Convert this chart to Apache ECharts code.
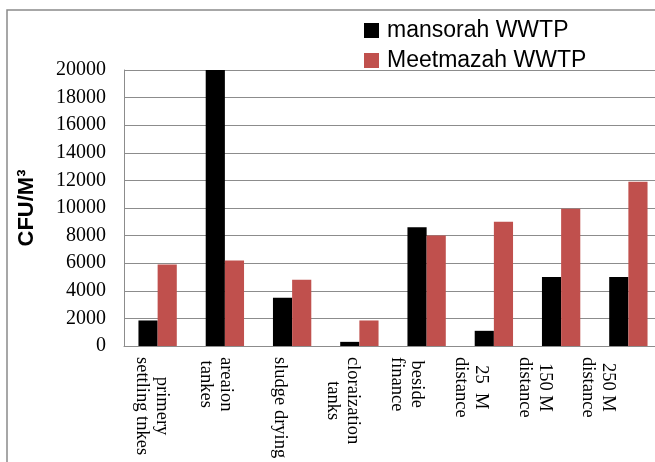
<!DOCTYPE html>
<html>
<head>
<meta charset="utf-8">
<script src="https://cdn.jsdelivr.net/npm/echarts@6/dist/echarts.min.js"></script>
<style>
  html, body { margin: 0; padding: 0; background: #fff; }
  #chart { width: 655px; height: 462px; }
</style>
</head>
<body>
<div id="chart"></div>
<script>
// sampling sites (first line of each label is drawn on the right when rotated)
const categories = [
    'primery\nsettling tnkes',
    'areaion\ntankes',
    'sludge drying',
    'cloraization\ntanks',
    'beside\nfinance',
    '25  M\ndistance',
    '150 M\ndistance',
    '250 M\ndistance'
];
const seriesNames = ['mansorah WWTP', 'Meetmazah WWTP'];
const mansorah = [1850, 20000, 3500, 300, 8600, 1100, 5000, 5000];
const meetmazah = [5900, 6200, 4800, 1850, 8000, 9000, 9950, 11900];
const yMin = 0;
const yMax = 20000;
const yStep = 2000;

const gridColor = '#8c8c8c';
const serif = '"Liberation Serif", "Times New Roman", serif';
const sans = '"Liberation Sans", Arial, sans-serif';

let chart = echarts.init(document.getElementById('chart'), null, { renderer: 'canvas' });

let option = {
    animation: false,
    graphic: [{
        type: 'rect',
        silent: true,
        z: -1,
        shape: { x: 7, y: 10, width: 700, height: 500 },
        style: { fill: 'none', stroke: '#8a8a8a', lineWidth: 1.5 }
    }],
    legend: {
        orient: 'vertical',
        left: 359,
        top: 14,
        itemWidth: 15,
        itemHeight: 15,
        itemGap: 7,
        icon: 'rect',
        data: seriesNames,
        textStyle: {
            fontFamily: sans,
            fontSize: 23,
            lineHeight: 22,
            color: '#000',
            padding: [0, 0, 0, 3]
        }
    },
    grid: [
        // plot area runs past the right edge of the picture, as in the reference
        { left: 124, width: 538, top: 70, bottom: 116, outerBoundsMode: 'none' },
        // labels in the reference sit on a slightly tighter spacing than the bars
        { left: 120, width: 510, top: 70, bottom: 116, outerBoundsMode: 'none' }
    ],
    xAxis: [{
        type: 'category',
        gridIndex: 0,
        data: categories,
        axisLine: { lineStyle: { color: gridColor, width: 1 } },
        axisTick: { show: false },
        axisLabel: { show: false }
    }, {
        type: 'category',
        gridIndex: 1,
        data: categories,
        axisLine: { show: false },
        axisTick: { show: false },
        axisLabel: {
            interval: 0,
            rotate: -90,
            margin: 11,
            hideOverlap: false,
            formatter: function (value) {
                return value.split('\n').map(function (line) {
                    return '{c|' + line + '}';
                }).join('\n');
            },
            rich: {
                c: {
                    align: 'center',
                    fontFamily: serif,
                    fontSize: 18.5,
                    lineHeight: 20,
                    color: '#000'
                }
            }
        }
    }],
    yAxis: [{
        type: 'value',
        gridIndex: 0,
        min: yMin,
        max: yMax,
        interval: yStep,
        name: 'CFU/M³',
        nameLocation: 'middle',
        nameGap: 86,
        nameTextStyle: {
            fontFamily: sans,
            fontWeight: 'bold',
            fontSize: 22,
            color: '#000'
        },
        axisLine: { show: true, lineStyle: { color: gridColor, width: 1 } },
        axisTick: { show: false },
        axisLabel: {
            fontFamily: serif,
            fontSize: 20,
            color: '#000',
            margin: 18,
            formatter: function (v) {
                return String(v);
            }
        },
        splitLine: { lineStyle: { color: gridColor, width: 1 } }
    }, {
        type: 'value',
        gridIndex: 1,
        show: false,
        min: 0,
        max: 1
    }],
    series: [{
        name: seriesNames[0],
        type: 'bar',
        xAxisIndex: 0,
        yAxisIndex: 0,
        data: mansorah,
        barGap: '0%',
        barCategoryGap: '43%',
        itemStyle: { color: '#000000' }
    }, {
        name: seriesNames[1],
        type: 'bar',
        xAxisIndex: 0,
        yAxisIndex: 0,
        data: meetmazah,
        barGap: '0%',
        barCategoryGap: '43%',
        itemStyle: { color: '#C0504D' }
    }]
};

chart.setOption(option);
</script>
</body>
</html>
